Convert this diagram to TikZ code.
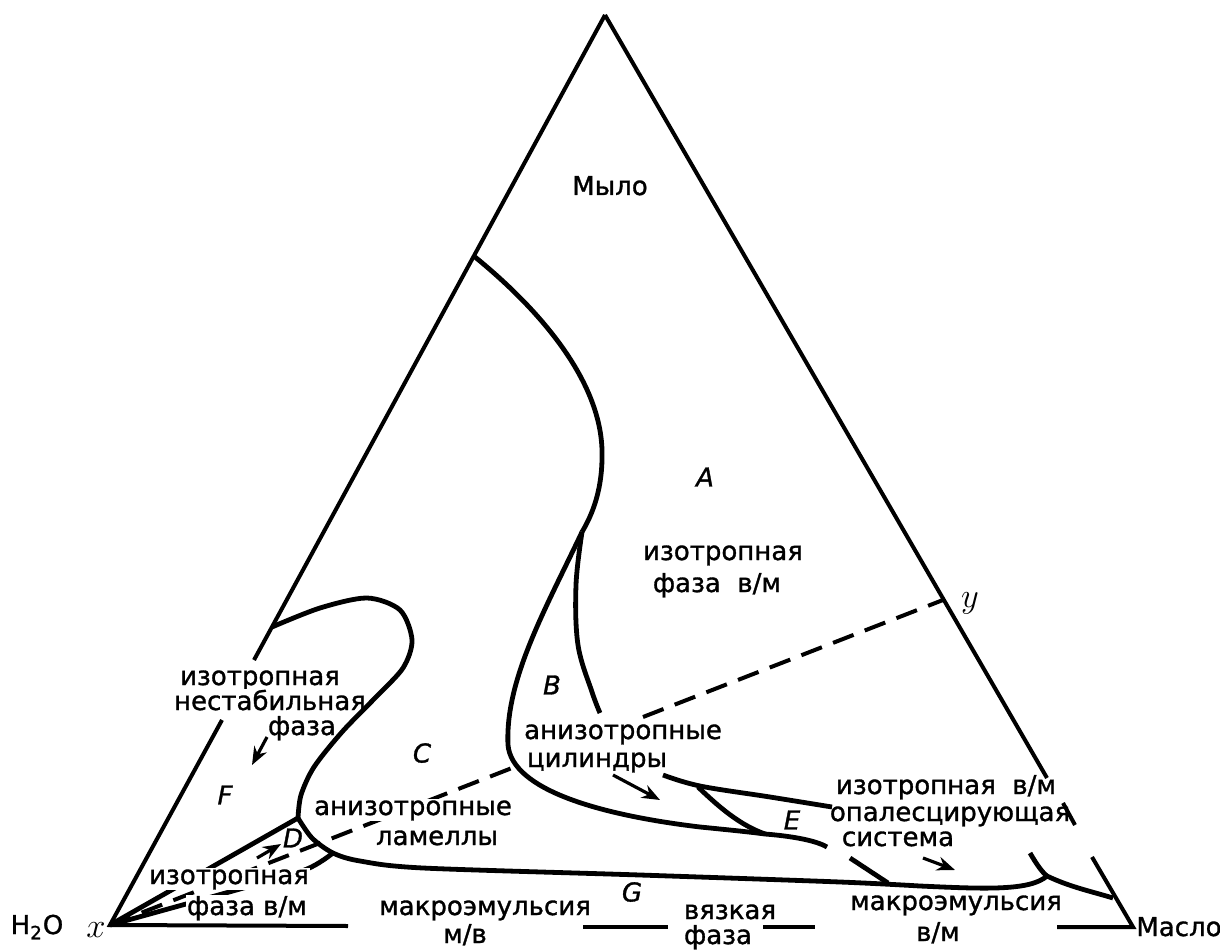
\documentclass[tikz,border=0pt]{standalone}
\usepackage{fontspec}
\setmainfont{DejaVu Sans}[RawFeature={embolden=1.2}]
\usetikzlibrary{arrows.meta}
\begin{document}
\begin{tikzpicture}[x=0.5pt,y=-0.5pt,
side/.style={line width=2pt},
phase/.style={line width=2.4pt},
tieline/.style={line width=2pt,dash pattern=on 11pt off 6pt},
arr/.style={line width=1.6pt,-{Stealth[length=9pt,width=7pt]}},
txt/.style={fill=white,inner sep=0.5pt,anchor=base,font=\fontsize{13}{14}\selectfont},
reg/.style={inner sep=1pt,font=\fontsize{13}{14}\selectfont\itshape}]

\useasboundingbox (0,0) rectangle (1220,952);

\coordinate (soap) at (605,15);
\coordinate (water) at (110,925);
\coordinate (oil) at (1133,927);
\coordinate (ypt) at (943,600);
\coordinate (jb) at (582,532);
\coordinate (jd) at (298,818);
\coordinate (jc) at (333,853);
\coordinate (je) at (765,834);
\coordinate (jg) at (1047,876);

\draw[tieline] (water) -- (512,768);
\draw[tieline] (643,717) -- (ypt);
\draw[phase] (water) -- (jd);
\draw[phase] plot[smooth] coordinates {(jc) (307,869) (247,887) (water)};

\node[txt] (isoA) at (723,560) {изотропная};
\node[txt] (phaseA) at (717,592) {фаза\ \ в/м};
\node[txt] (anisoB) at (623,739) {анизотропные};
\node[txt] (cylB) at (597,767) {цилиндры};
\node[txt] (anisoC) at (413,815) {анизотропные};
\node[txt] (lamC) at (437,845) {ламеллы};
\node[txt] (isoF) at (260,685) {изотропная};
\node[txt] (unstF) at (270,710) {нестабильная};
\node[txt] (phaseF) at (302,735) {фаза};
\node[txt] (isoD) at (229,884) {изотропная};
\node[txt] (phaseD) at (247,915) {фаза в/м};
\node[txt] (isoE) at (946,794) {изотропная\ \ в/м};
\node[txt] (opalE) at (950,821) {опалесцирующая};
\node[txt] (sysE) at (898,846) {система};
\node[txt] (emulWO) at (485,915) {макроэмульсия};
\node[txt] (wo) at (465,943) {м/в};
\node[txt] (visc) at (730,919) {вязкая};
\node[txt] (viscph) at (718,944) {фаза};
\node[txt] (emulOW) at (956,910) {макроэмульсия};
\node[txt] (ow) at (938,941) {в/м};
\node[txt] (soapname) at (610,195) {Мыло};
\node[txt] (oilname) at (1179,936) {Масло};
\node[txt] (watername) at (37,934) {H\textsubscript{2}O};

\node[reg] (A) at (705,477) {A};
\node[reg] (B) at (552,685) {B};
\node[reg] (C) at (422,753) {C};
\node[reg] (D) at (293,838) {D};
\node[reg] (E) at (792,820) {E};
\node[reg] (F) at (225,795) {F};
\node[reg] (G) at (632,892) {G};
\node[reg] (xname) at (96,930) {\fontsize{18}{18}\selectfont$x$};
\node[reg] (yname) at (970,603) {\fontsize{18}{18}\selectfont$y$};

\draw[phase] (475,257) .. controls (540,310) and (600,380) .. (602,450) .. controls (603,490) and (592,515) .. (jb);
\draw[phase] plot[smooth,tension=0.6] coordinates {(jb) (576,585) (578,645) (592,692) (600,713)};
\draw[phase] plot[smooth,tension=0.6] coordinates {(663,775) (700,786) (770,797) (832,807)};
\draw[phase] (jb) .. controls (545,610) and (505,680) .. (508,745) .. controls (512,790) and (600,815) .. (700,827) .. controls (730,830) and (750,832) .. (je) .. controls (790,836) and (815,840) .. (827,847);
\draw[phase] (850,858) -- (888,883);
\draw[phase] (698,787) .. controls (720,808) and (740,825) .. (je);
\draw[phase] plot[smooth] coordinates {(272,627) (320,608) (367,598) (400,610) (412,640) (403,668) (375,698) (342,732) (314,767) (301,795) (jd)};
\draw[phase] plot[smooth] coordinates {(jd) (312,838) (jc) (360,861) (423,868) (640,875) (840,882) (920,886)} .. controls (985,889) and (1030,891) .. (jg);
\draw[phase] (1030,853) .. controls (1037,865) and (1042,872) .. (jg) .. controls (1070,887) and (1090,891) .. (1113,898);

\draw[side] (soap) -- (254,660);
\draw[side] (222,720) -- (water) -- (348,926);
\draw[side] (583,927) -- (668,927);
\draw[side] (763,927) -- (815,927);
\draw[side] (1057,927) -- (oil) -- (1092,857);
\draw[side] (1075,825) -- (1063,803);
\draw[side] (1047,778) -- (soap);

\draw[arr] (267,737) -- (252,765);
\draw[arr] (257,858) -- (281,844);
\draw[arr] (613,775) -- (660,800);
\draw[arr] (923,858) -- (955,870);
\end{tikzpicture}
\end{document}
